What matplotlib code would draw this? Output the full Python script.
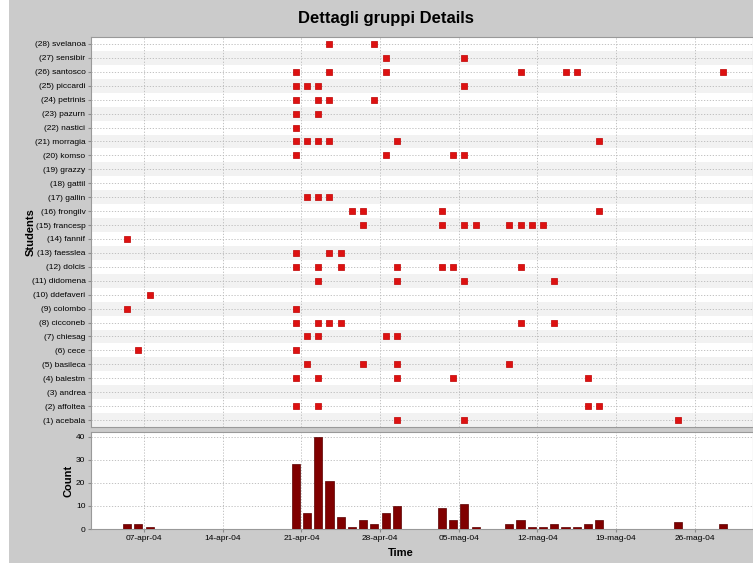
import datetime as dt
import matplotlib
matplotlib.use('Agg')
import matplotlib.pyplot as plt
import matplotlib.dates as mdates
from matplotlib.patches import Rectangle

plt.rcParams['font.family'] = ['Liberation Sans', 'DejaVu Sans']

# students, bottom (1) to top (28)
students = ['acebala', 'affoltea', 'andrea', 'balestm', 'basileca', 'cece', 'chiesag',
            'cicconeb', 'colombo', 'ddefaveri', 'didomena', 'dolcis', 'faesslea', 'fannif',
            'francesp', 'frongilv', 'gallin', 'gattil', 'grazzy', 'komso', 'morragia',
            'nastici', 'pazurn', 'petrinis', 'piccardi', 'santosco', 'sensibir', 'svelanoa']

# activity days per student (day, month)
activity = {
    1: [(29, 4), (5, 5), (24, 5)],
    2: [(20, 4), (22, 4), (16, 5), (17, 5)],
    3: [],
    4: [(20, 4), (22, 4), (29, 4), (4, 5), (16, 5)],
    5: [(21, 4), (26, 4), (29, 4), (9, 5)],
    6: [(6, 4), (20, 4)],
    7: [(21, 4), (22, 4), (28, 4), (29, 4)],
    8: [(20, 4), (22, 4), (23, 4), (24, 4), (10, 5), (13, 5)],
    9: [(5, 4), (20, 4)],
    10: [(7, 4)],
    11: [(22, 4), (29, 4), (5, 5), (13, 5)],
    12: [(20, 4), (22, 4), (24, 4), (29, 4), (3, 5), (4, 5), (10, 5)],
    13: [(20, 4), (23, 4), (24, 4)],
    14: [(5, 4)],
    15: [(26, 4), (3, 5), (5, 5), (6, 5), (9, 5), (10, 5), (11, 5), (12, 5)],
    16: [(25, 4), (26, 4), (3, 5), (17, 5)],
    17: [(21, 4), (22, 4), (23, 4)],
    18: [],
    19: [],
    20: [(20, 4), (28, 4), (4, 5), (5, 5)],
    21: [(20, 4), (21, 4), (22, 4), (23, 4), (29, 4), (17, 5)],
    22: [(20, 4)],
    23: [(20, 4), (22, 4)],
    24: [(20, 4), (22, 4), (23, 4), (27, 4)],
    25: [(20, 4), (21, 4), (22, 4), (5, 5)],
    26: [(20, 4), (23, 4), (28, 4), (10, 5), (14, 5), (15, 5), (28, 5)],
    27: [(28, 4), (5, 5)],
    28: [(23, 4), (27, 4)],
}

# daily counts
count_days = [(5, 4), (6, 4), (7, 4), (20, 4), (21, 4), (22, 4), (23, 4), (24, 4), (25, 4),
              (26, 4), (27, 4), (28, 4), (29, 4), (3, 5), (4, 5), (5, 5), (6, 5), (9, 5),
              (10, 5), (11, 5), (12, 5), (13, 5), (14, 5), (15, 5), (16, 5), (17, 5),
              (24, 5), (28, 5)]
counts = [2, 2, 1, 28, 7, 40, 21, 5, 1, 4, 2, 7, 10, 9, 4, 11, 1, 2, 4, 1, 1, 2, 1, 1, 2, 4,
          3, 2]

tick_days = [(7, 4), (14, 4), (21, 4), (28, 4), (5, 5), (12, 5), (19, 5), (26, 5)]
tick_labels = ['07-apr-04', '14-apr-04', '21-apr-04', '28-apr-04', '05-mag-04',
               '12-mag-04', '19-mag-04', '26-mag-04']


def day(d, m, h=0):
    return dt.datetime(2004, m, d, h)


bg = '#cbcbcb'
grid_c = '#b8b8b8'
fig = plt.figure(figsize=(7.53, 5.63), dpi=100, facecolor='white')
fig.patches.append(Rectangle((9 / 753, 0), 1, 1, transform=fig.transFigure,
                             facecolor=bg, edgecolor='none', zorder=-10))

x0 = day(7, 4) - dt.timedelta(days=53 / 11.24)
x1 = day(7, 4) + dt.timedelta(days=609 / 11.24)
ticks = [mdates.date2num(day(d, m)) for d, m in tick_days]

ax = fig.add_axes([91 / 753, 1 - 427 / 563, 662 / 753, 390 / 563])
ax2 = fig.add_axes([91 / 753, 1 - 529 / 563, 662 / 753, 97 / 563])

# scatter plot
for i in range(1, 29):
    if i % 2 == 1:
        ax.axhspan(i - 0.5, i + 0.5, color='#f2f2f2', lw=0, zorder=0)
    pts = activity[i]
    if pts:
        xs = [day(d, m, 12) for d, m in pts]
        ax.scatter(xs, [i] * len(xs), marker='s', s=22, color='#dd1111',
                   edgecolors='#c00000', linewidths=0.5, zorder=3)
ax.set_ylim(0.5, 28.5)
ax.set_xlim(x0, x1)
ax.set_yticks(range(1, 29))
ax.set_yticklabels(['(%d) %s' % (i + 1, s) for i, s in enumerate(students)])
ax.set_xticks(ticks)
ax.tick_params(axis='x', labelbottom=False, length=0)
ax.tick_params(axis='y', labelsize=6, length=2, color='#888888', pad=2)
ax.grid(True, color=grid_c, linestyle=(0, (1.5, 2)), linewidth=0.6, zorder=1)
ax.set_axisbelow(True)
for sp in ax.spines.values():
    sp.set_color('#999999')
ax.set_ylabel('Students', fontsize=8, fontweight='bold')
ax.yaxis.set_label_coords(-55 / 662, 0.5)

# counts plot
xs = [day(d, m, 12) for d, m in count_days]
ax2.bar(xs, counts, width=0.72, color='#800000', edgecolor='#5a0000', linewidth=0.5,
        zorder=3)
ax2.set_xlim(x0, x1)
ax2.set_ylim(0, 42)
ax2.set_yticks([0, 10, 20, 30, 40])
ax2.set_xticks(ticks)
ax2.set_xticklabels(tick_labels)
ax2.tick_params(labelsize=6, length=2, color='#888888', pad=2)
ax2.grid(True, color=grid_c, linestyle=(0, (1.5, 2)), linewidth=0.6, zorder=1)
ax2.set_axisbelow(True)
for sp in ax2.spines.values():
    sp.set_color('#999999')
ax2.set_ylabel('Count', fontsize=8, fontweight='bold')
ax2.yaxis.set_label_coords(-18 / 662, 0.5)
ax2.set_xlabel('Time', fontsize=8, fontweight='bold')
ax2.xaxis.set_label_coords(310 / 662, -0.2)

fig.text(386 / 753, 1 - 19 / 563, 'Dettagli gruppi Details', ha='center', va='center',
         fontsize=12, fontweight='bold')

fig.savefig('out.png', dpi=100, facecolor=fig.get_facecolor())
